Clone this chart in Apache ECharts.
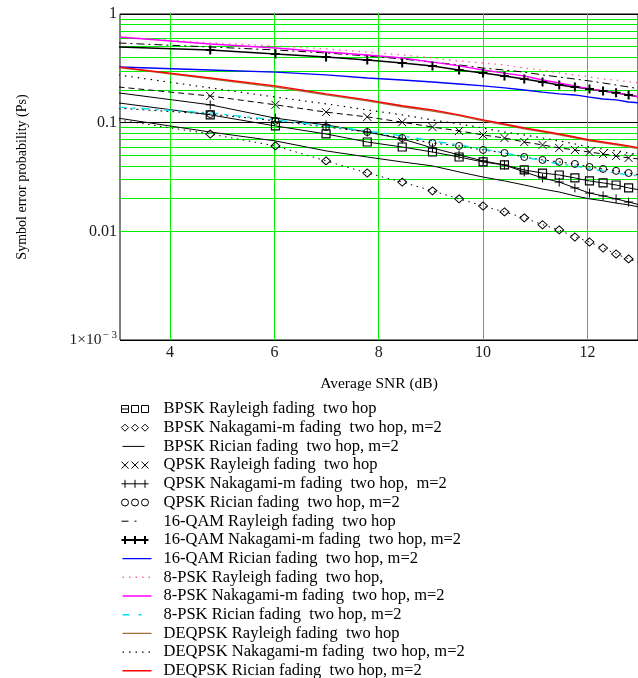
<!DOCTYPE html>
<html><head><meta charset="utf-8">
<script src="https://cdn.jsdelivr.net/npm/echarts@6/dist/echarts.min.js"></script>
<style>html,body{margin:0;padding:0;background:#fff}#c{width:638px;height:678px}</style>
</head><body><div id="c"></div>
<script>
// ---- data ----
const snr = [3.01, 4.77, 6.02, 6.99, 7.78, 8.45, 9.03, 9.54, 10.0, 10.41, 10.79, 11.14, 11.46, 11.76, 12.04, 12.30, 12.55, 12.79, 13.01];

const bpskRayleigh   = [0.152, 0.118, 0.0933, 0.0787, 0.0664, 0.0597, 0.0537, 0.0483, 0.0435, 0.0408, 0.0367, 0.0344, 0.0330, 0.0310, 0.0291, 0.0279, 0.0267, 0.0251, 0.0240];
const bpskNakagami   = [0.106, 0.0787, 0.0611, 0.0445, 0.0344, 0.0284, 0.0236, 0.0199, 0.0171, 0.0151, 0.0133, 0.0115, 0.0103, 0.00887, 0.00798, 0.00703, 0.00619, 0.00557, 0.00512];
const bpskRician     = [0.110, 0.0820, 0.0679, 0.0550, 0.0483, 0.0435, 0.0400, 0.0352, 0.0316, 0.0291, 0.0267, 0.0245, 0.0230, 0.0212, 0.0199, 0.0191, 0.0182, 0.0175, 0.0167];
const qpskRayleigh   = [0.213, 0.176, 0.146, 0.125, 0.113, 0.101, 0.0912, 0.0839, 0.0771, 0.0723, 0.0664, 0.0624, 0.0585, 0.0561, 0.0537, 0.0515, 0.0494, 0.0473, 0.0463];
const qpskNakagami   = [0.188, 0.146, 0.110, 0.0953, 0.0820, 0.0708, 0.0585, 0.0505, 0.0445, 0.0408, 0.0352, 0.0310, 0.0284, 0.0251, 0.0225, 0.0212, 0.0199, 0.0186, 0.0175];
const qpskRician     = [0.136, 0.120, 0.104, 0.0912, 0.0820, 0.0723, 0.0650, 0.0611, 0.0561, 0.0526, 0.0483, 0.0454, 0.0435, 0.0417, 0.0391, 0.0375, 0.0360, 0.0344, 0.0330];
const qam16Rayleigh  = [0.541, 0.497, 0.467, 0.438, 0.411, 0.385, 0.361, 0.340, 0.318, 0.305, 0.292, 0.275, 0.263, 0.252, 0.242, 0.232, 0.222, 0.213, 0.204];
const qam16Nakagami  = [0.497, 0.467, 0.429, 0.402, 0.378, 0.354, 0.333, 0.305, 0.286, 0.269, 0.252, 0.237, 0.222, 0.213, 0.204, 0.196, 0.188, 0.180, 0.172];
const qam16Rician    = [0.325, 0.305, 0.292, 0.275, 0.258, 0.247, 0.237, 0.227, 0.218, 0.209, 0.200, 0.191, 0.184, 0.180, 0.172, 0.165, 0.162, 0.155, 0.152];
const psk8Rayleigh   = [0.614, 0.541, 0.508, 0.477, 0.447, 0.420, 0.394, 0.370, 0.354, 0.340, 0.318, 0.305, 0.286, 0.275, 0.263, 0.252, 0.247, 0.237, 0.232];
const psk8Nakagami   = [0.614, 0.530, 0.486, 0.447, 0.420, 0.394, 0.361, 0.333, 0.305, 0.286, 0.269, 0.247, 0.232, 0.218, 0.204, 0.196, 0.188, 0.180, 0.172];
const psk8Rician     = [0.139, 0.123, 0.106, 0.0933, 0.0839, 0.0755, 0.0679, 0.0624, 0.0573, 0.0526, 0.0483, 0.0445, 0.0417, 0.0400, 0.0375, 0.0360, 0.0344, 0.0330, 0.0324];
const deqpskRayleigh = [0.322, 0.253, 0.213, 0.180, 0.159, 0.140, 0.128, 0.116, 0.104, 0.0955, 0.0877, 0.0822, 0.0772, 0.0724, 0.0680, 0.0651, 0.0625, 0.0599, 0.0574];
const deqpskNakagami = [0.275, 0.209, 0.172, 0.149, 0.131, 0.118, 0.106, 0.0973, 0.0893, 0.0820, 0.0771, 0.0723, 0.0679, 0.0637, 0.0597, 0.0573, 0.0550, 0.0526, 0.0505];
const deqpskRician   = [0.325, 0.258, 0.218, 0.184, 0.162, 0.143, 0.131, 0.118, 0.106, 0.0973, 0.0893, 0.0839, 0.0787, 0.0738, 0.0693, 0.0664, 0.0637, 0.0611, 0.0585];

const xTicks = [4, 6, 8, 10, 12];
const yMinorGrid = [0.9, 0.8, 0.7, 0.6, 0.5, 0.4, 0.3, 0.2,
                    0.09, 0.08, 0.07, 0.06, 0.05, 0.04, 0.03, 0.02,
                    0.009, 0.008, 0.007, 0.006, 0.005, 0.004, 0.003, 0.002];

const names = [
  'BPSK Rayleigh fading  two hop',
  'BPSK Nakagami-m fading  two hop, m=2',
  'BPSK Rician fading  two hop, m=2',
  'QPSK Rayleigh fading  two hop',
  'QPSK Nakagami-m fading  two hop,  m=2',
  'QPSK Rician fading  two hop, m=2',
  '16-QAM Rayleigh fading  two hop',
  '16-QAM Nakagami-m fading  two hop, m=2',
  '16-QAM Rician fading  two hop, m=2',
  '8-PSK Rayleigh fading  two hop,',
  '8-PSK Nakagami-m fading  two hop, m=2',
  '8-PSK Rician fading  two hop, m=2',
  'DEQPSK Rayleigh fading  two hop',
  'DEQPSK Nakagami-m fading  two hop, m=2',
  'DEQPSK Rician fading  two hop, m=2'
];
const values = [bpskRayleigh, bpskNakagami, bpskRician, qpskRayleigh, qpskNakagami, qpskRician,
  qam16Rayleigh, qam16Nakagami, qam16Rician, psk8Rayleigh, psk8Nakagami, psk8Rician,
  deqpskRayleigh, deqpskNakagami, deqpskRician];

// ---- styles ----
const SERIF = '"Liberation Serif", "DejaVu Serif", serif';
const CROSS = 'path://M0,0L8,8M8,0L0,8';
const PLUS = 'path://M4.5,0V9M0,4.5H9';
const styles = [
  {c:'#000', w:1, t:'solid', sym:'rect', ss:8, sw:1.2},
  {c:'#000', w:1, t:[1.5,4.5], sym:'diamond', ss:[9,8], sw:1},
  {c:'#000', w:1, t:'solid'},
  {c:'#000', w:1, t:[6,4], sym:CROSS, ss:8, sw:1},
  {c:'#000', w:1, t:'solid', sym:PLUS, ss:9, sw:1},
  {c:'#000', w:1, t:[2,4], sym:'circle', ss:7, sw:1},
  {c:'#000', w:1, t:[8,4,2,4]},
  {c:'#000', w:1.5, t:'solid', sym:PLUS, ss:9, sw:2},
  {c:'#0000ff', w:1.4, t:'solid'},
  {c:'#ff6699', w:1.4, t:[1.5,5]},
  {c:'#ff00ff', w:1.4, t:'solid'},
  {c:'#00e0f0', w:1.4, t:[8,6,3,6]},
  {c:'#a0703c', w:1.4, t:'solid'},
  {c:'#000', w:1.2, t:[1.5,5]},
  {c:'#ff0000', w:1.4, t:'solid'}
];

function box(p) { return 'path://M0,0h0.01' + p + 'M38,10h-0.01'; }
const legendIcons = [
  {p:'M1,1.5h7v7h-7zM1,5h7M11,1.5h7v7h-7zM21,1.5h7v7h-7z', w:1},
  {p:'M4.5,1.5L8,5L4.5,8.5L1,5ZM14.5,1.5L18,5L14.5,8.5L11,5ZM24.5,1.5L28,5L24.5,8.5L21,5Z', w:1},
  {p:'M2,5H24', w:1},
  {p:'M1,1.5L8,8.5M8,1.5L1,8.5M11,1.5L18,8.5M18,1.5L11,8.5M21,1.5L28,8.5M28,1.5L21,8.5', w:1},
  {p:'M4.5,1V9M1,5H28M14.5,1V9M24.5,1V9', w:1},
  {p:'M1,5a3.5,3.5 0 1,0 7,0a3.5,3.5 0 1,0 -7,0M11,5a3.5,3.5 0 1,0 7,0a3.5,3.5 0 1,0 -7,0M21,5a3.5,3.5 0 1,0 7,0a3.5,3.5 0 1,0 -7,0', w:1},
  {p:'M1,5H8M14,5H16', w:1},
  {p:'M4.5,1V9M1,5H28M14.5,1V9M24.5,1V9', w:2},
  {p:'M2,5H31', w:1.4},
  {p:'M2,5H31', w:1.4, d:[1.5,5]},
  {p:'M2,5H31', w:1.4},
  {p:'M2,5H9M18,5H21', w:1.4},
  {p:'M2,5H31', w:1.4},
  {p:'M2,5H31', w:1.2, d:[1.5,5]},
  {p:'M2,5H31', w:1.4}
];

const series = [{
  type: 'line', name: '_grid', data: [], silent: true, z: 1,
  markLine: {
    silent: true, symbol: 'none', label: {show: false}, animation: false, z: 1,
    lineStyle: {color: '#00ee00', width: 1, type: 'solid'},
    emphasis: {disabled: true},
    data: yMinorGrid.map(v => ({yAxis: v}))
  }
}];
values.forEach((vals, i) => {
  const s = styles[i];
  series.push({
    type: 'line', name: names[i], silent: true, z: 3,
    data: snr.map((x, k) => [x, vals[k]]),
    symbol: s.sym || 'none', symbolSize: s.ss || 0, showSymbol: !!s.sym,
    itemStyle: {color: 'none', borderColor: s.c, borderWidth: s.sw || 1},
    lineStyle: {color: s.c, width: s.w, type: s.t},
    emphasis: {disabled: true}
  });
});

const legendData = names.map((n, i) => ({
  name: n,
  icon: box(legendIcons[i].p),
  itemStyle: {color: 'none', borderColor: styles[i].c, borderWidth: legendIcons[i].w,
              borderType: legendIcons[i].d || 'solid'}
}));

const chart = echarts.init(document.getElementById('c'), null, {renderer: 'canvas'});
chart.setOption({
  animation: false,
  backgroundColor: '#fff',
  grid: {left: 120, top: 14, right: -1, height: 326, show: true, borderColor: '#000', borderWidth: 1, containLabel: false},
  xAxis: {
    type: 'value', min: 3.04, max: 12.97,
    name: 'Average SNR (dB)', nameLocation: 'middle', nameGap: 36,
    nameTextStyle: {fontFamily: SERIF, fontSize: 15.5, color: '#000'},
    axisLine: {show: false}, axisTick: {show: false, customValues: xTicks},
    axisLabel: {customValues: xTicks, margin: 5, fontFamily: SERIF, fontSize: 16, color: '#1a1a1a'},
    splitLine: {show: true, lineStyle: {color: '#00ee00', width: 1}}
  },
  yAxis: {
    type: 'log', logBase: 10, min: 0.001, max: 1,
    name: 'Symbol error probability (Ps)', nameLocation: 'middle', nameGap: 91, nameRotate: 90,
    nameTextStyle: {fontFamily: SERIF, fontSize: 14, color: '#000'},
    axisLine: {show: false}, axisTick: {show: false},
    axisLabel: {
      margin: 3, fontFamily: SERIF, fontSize: 16, color: '#1a1a1a',
      formatter: v => {
        const e = Math.round(Math.log10(v));
        if (e === 0) return '1';
        if (e === -1) return '0.1';
        if (e === -2) return '0.01';
        return '{n|1×10}{s|− 3}';
      },
      rich: {
        n: {fontFamily: SERIF, fontSize: 15.5, color: '#1a1a1a'},
        s: {fontFamily: SERIF, fontSize: 11, color: '#1a1a1a', padding: [0, 0, 10, 1]}
      }
    },
    splitLine: {show: true, lineStyle: {color: '#000', width: 1}}
  },
  legend: {
    orient: 'vertical', left: 118, top: 400.5, height: 300, padding: 0,
    itemWidth: 38, itemHeight: 10, itemGap: 1.7, selectedMode: false,
    textStyle: {fontFamily: SERIF, fontSize: 16.5, color: '#000', lineHeight: 16},
    data: legendData
  },
  series: series
});
</script>
</body></html>
